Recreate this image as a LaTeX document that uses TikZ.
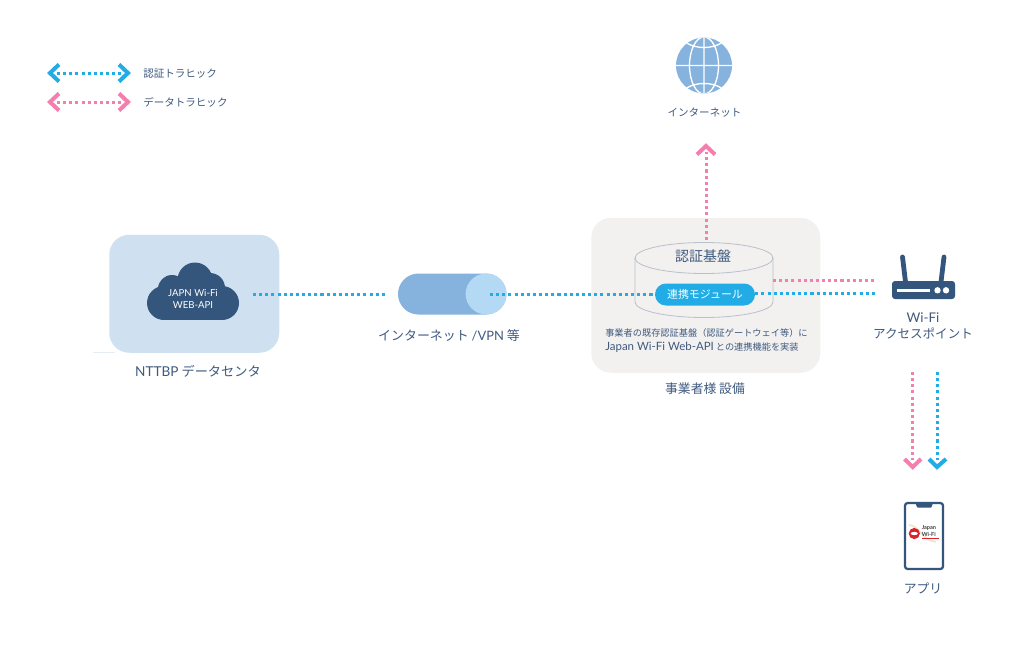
\documentclass[tikz,border=0pt]{standalone}
\usepackage{fontspec}
\setmainfont{Noto Sans CJK JP}[Scale=1]
\newfontfamily\la{Lato}
\usetikzlibrary{calc}
\definecolor{ink}{HTML}{34557C}
\definecolor{txt}{HTML}{3F5A7E}
\definecolor{auth}{HTML}{22ACE6}
\definecolor{data}{HTML}{F47FAF}
\definecolor{globe}{HTML}{86B2DE}
\definecolor{pale}{HTML}{B3D9F4}
\definecolor{dcbox}{HTML}{CFE1F0}
\definecolor{corp}{HTML}{F2F1F0}
\definecolor{cyl}{HTML}{B8C0CC}
\definecolor{logored}{HTML}{D9242E}
\definecolor{swoosh}{HTML}{F3E6C4}
\newcommand{\pxfont}[2]{\fontsize{#1}{#2}\selectfont}
\tikzset{
  x=0.75pt,y=-0.75pt,
  authline/.style={draw=auth,line width=2.25pt,dash pattern=on 2.3pt off 2.3pt},
  dataline/.style={draw=data,line width=2.25pt,dash pattern=on 2.3pt off 2.3pt},
  authchev/.style={draw=auth,line width=3pt,line join=miter},
  datachev/.style={draw=data,line width=3pt,line join=miter},
  lbl/.style={text=txt,inner sep=0pt,align=center},
  box/.style={inner sep=0pt,rounded corners=15pt},
}
\begin{document}
\begin{tikzpicture}
\useasboundingbox (0,0) rectangle (1023,646);
\fill[white] (0,0) rectangle (1023,646);

% legend
\coordinate (la1) at (50,73); \coordinate (lb1) at (128,73);
\coordinate (la2) at (50,102); \coordinate (lb2) at (128,102);
\draw[authline] (57,73) -- (121,73);
\draw[authchev] (59,64.5) -- (la1) -- (59,81.5);
\draw[authchev] (119,64.5) -- (lb1) -- (119,81.5);
\draw[dataline] (57,102) -- (121,102);
\draw[datachev] (59,93.5) -- (la2) -- (59,110.5);
\draw[datachev] (119,93.5) -- (lb2) -- (119,110.5);
\node[lbl,anchor=west,font=\pxfont{7.9pt}{9pt}] (leg1) at (143,73.7) {認証トラヒック};
\node[lbl,anchor=west,font=\pxfont{7.9pt}{9pt}] (leg2) at (143,102.7) {データトラヒック};

% NTTBP box
\draw[dcbox!60!white,line width=0.5pt] (93,352.5) -- (115,352.5);
\node[box,fill=dcbox,minimum width=127.5pt,minimum height=88.5pt,anchor=north west] (nttbp) at (109,234.5) {};
\fill[ink] (195,280) circle (17.5);
\fill[ink] (172,289) circle (14);
\fill[ink] (210,288) circle (15);
\fill[ink] (164,303) circle (17);
\fill[ink] (222,303) circle (17);
\fill[ink] (164,290) rectangle (222,320);
\node[text=white,inner sep=0pt,align=center,font=\la\pxfont{7.2pt}{9.6pt}] (api) at (193,299) {JAPN Wi-Fi\\WEB-API};
\node[lbl,font=\pxfont{9.9pt}{12pt}] (nttbplbl) at (198,371) {{\la\fontsize{10.2pt}{12pt}\selectfont NTTBP} データセンタ};

% VPN pill
\fill[globe] (418.5,273.5) arc (-90:-270:20.5) -- (486,314.5) arc (90:-90:20.5) -- cycle;
\node[circle,fill=pale,minimum size=30.6pt,inner sep=0pt] (vpn) at (486,294) {};
\node[lbl,font=\pxfont{9.7pt}{12pt}] (vpnlbl) at (449,336) {インターネット {\la /VPN} 等};

% operator box
\node[box,fill=corp,minimum width=171.75pt,minimum height=116.25pt,anchor=north west] (corp) at (591,217.5) {};
\draw[cyl,line width=0.6pt] (635,258) -- (635,302) arc (-180:-360:69 and 15.5) -- (773,258);
\draw[cyl,line width=0.6pt] (704,258) ellipse (69 and 15.5);
\node[lbl,font=\pxfont{10.5pt}{12pt}] (auth) at (703,256) {認証基盤};
\node[fill=auth,rounded corners=8.2pt,minimum width=75pt,minimum height=16.5pt,inner sep=0pt,text=white,font=\pxfont{8.2pt}{10pt}] (mod) at (705,294.5) {連携モジュール};
\node[lbl,align=left,anchor=west,font=\pxfont{6.9pt}{10.5pt}] (desc) at (605,341) {事業者の既存認証基盤（認証ゲートウェイ等）に\\{\la\fontsize{8.6pt}{10.5pt}\selectfont Japan Wi-Fi Web-API} との連携機能を実装};
\node[lbl,font=\pxfont{9.6pt}{12pt}] (corplbl) at (705,389) {事業者様 設備};

% internet globe
\node[circle,fill=globe,minimum size=42pt,inner sep=0pt] (net) at (704,65.5) {};
\begin{scope}
\clip (704,65.5) circle (28);
\draw[white,line width=1pt] (704,37) -- (704,94) (676,65.5) -- (732,65.5)
  (704,65.5) ellipse (14.5 and 28.5)
  (704,33) ellipse (24 and 14.5) (704,98) ellipse (24 and 14.5);
\end{scope}
\node[lbl,font=\pxfont{7.9pt}{9pt}] (netlbl) at (704.5,112.7) {インターネット};
\coordinate (uptip) at (706,146);
\draw[dataline] (706,240) -- (706,152);
\draw[datachev] (697,154.5) -- (uptip) -- (715,154.5);

% router
\node[fill=ink,rounded corners=2.2pt,minimum width=47.25pt,minimum height=13.5pt,inner sep=0pt] (ap) at (923.5,290) {};
\draw[ink,line width=3.6pt,line cap=round] (902.5,257) -- (905.5,282) (944,257) -- (941,282);
\fill[white] (897,288.5) rectangle (930,292);
\fill[white] (937.5,290.3) circle (3.2);
\fill[white] (946,290.3) circle (3.2);
\node[lbl,font=\pxfont{9.4pt}{12pt}] (aplbl) at (923,326) {{\la\fontsize{10pt}{12pt}\selectfont Wi-Fi}\\アクセスポイント};

% connectors
\coordinate (a1) at (253,294.5); \coordinate (a2) at (386,294.5);
\coordinate (a3) at (490,294.5);
\coordinate (a4) at (877,293.5); \coordinate (a5) at (773,280.5); \coordinate (a6) at (877,280.5);
\draw[authline] (a1) -- (a2);
\draw[authline] (a3) -- (mod.west);
\draw[authline] (mod.east |- a4) -- (a4);
\draw[dataline] (a5) -- (a6);

% downward arrows
\coordinate (dp) at (912.7,467); \coordinate (db) at (937,467);
\draw[dataline] (912.7,372) -- (912.7,460);
\draw[datachev] (904.5,459) -- (dp) -- (921,459);
\draw[authline] (937,372) -- (937,460);
\draw[authchev] (929,459) -- (db) -- (946,459);

% phone
\node[draw=ink,line width=1.7pt,rounded corners=2pt,minimum width=28.5pt,minimum height=49.5pt,fill=white,inner sep=0pt] (phone) at (924,536) {};
\fill[ink] (915.5,502.5) -- (933,502.5) -- (932,506) -- (931,507.5) -- (917.5,507.5) -- (916.5,506) -- cycle;
\draw[swoosh,line width=1.2pt] (909,525) .. controls (920,526) and (921,540) .. (936,542);
\fill[logored] (914.3,533.5) circle (5.6);
\fill[white] (914.3,533.5) ellipse (3.6 and 1.6);
\node[inner sep=0pt,text=black!75,align=left,anchor=west,font=\la\bfseries\pxfont{4.2pt}{4.6pt}] (logo) at (921.5,531) {Japan\\Wi-Fi};
\fill[logored] (922,537.7) rectangle (939,539.2);
\node[lbl,font=\pxfont{9.6pt}{12pt}] (applbl) at (923,588) {アプリ};
\end{tikzpicture}
\end{document}
